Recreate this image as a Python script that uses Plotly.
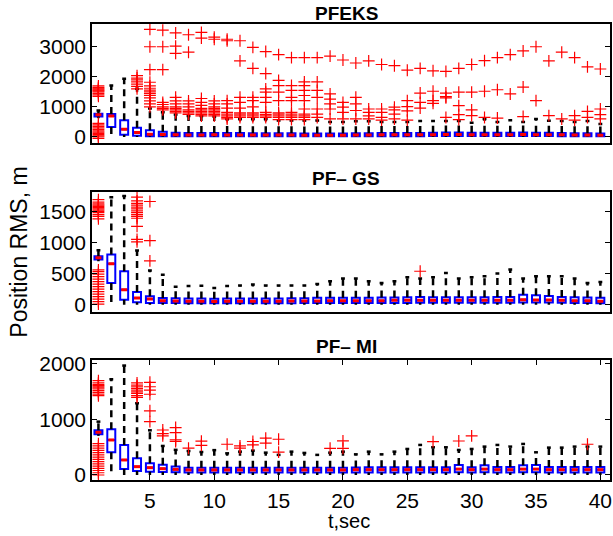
import plotly.graph_objects as go

t = list(range(1, 41))

# ---------------- PFEKS ----------------
pfeks_q1 = [680, 330, 70, 40, 20, 20, 25, 25, 25, 25, 25, 25, 25, 25, 25, 25, 25, 25, 25, 25,
            25, 25, 25, 25, 25, 25, 30, 30, 30, 30, 30, 30, 30, 30, 30, 30, 25, 25, 25, 20]
pfeks_med = [740, 700, 260, 145, 90, 80, 70, 65, 65, 70, 65, 65, 65, 65, 65, 65, 60, 60, 60, 60,
             65, 65, 70, 70, 70, 75, 75, 80, 80, 75, 75, 75, 75, 80, 75, 75, 70, 65, 65, 60]
pfeks_q3 = [770, 760, 560, 310, 220, 170, 140, 130, 130, 135, 130, 130, 125, 120, 120, 120, 115, 115, 115, 115,
            120, 125, 130, 130, 130, 135, 140, 145, 145, 140, 140, 140, 140, 145, 140, 140, 130, 120, 120, 115]
pfeks_hi = [880, 1710, 1940, 1600, 950, 820, 750, 700, 700, 680, 600, 600, 600, 600, 550, 550, 550, 550, 500, 500,
            520, 520, 500, 500, 500, 530, 530, 530, 530, 470, 600, 500, 560, 500, 600, 540, 530, 500, 530, 430]
pfeks_lo = [620] + [0] * 39
pfeks_out = {
    1: [1350, 1400, 1450, 1500, 1530, 1560, 1590, 1620, 1650, 1700,
        -50, 0, 40, 80, 120, 160, 200, 250, 300, 350, 400, 450],
    4: [1600, 1680, 1760, 1830, 1900, 1960, 2040],
    5: [3580, 3000, 2240, 1820, 1700, 1620, 1560, 1500, 1440, 1380, 1300, 1200, 1100, 1000],
    6: [3550, 3000, 2240, 1150, 1080, 1000, 950, 900],
    7: [3460, 3020, 2780, 1320, 1200, 1100, 1000, 950, 900, 850, 800],
    8: [3400, 2820, 1200, 1100, 1000, 900, 850, 800, 750],
    9: [3480, 3290, 1280, 1150, 1050, 950, 900, 850, 800, 750, 700],
    10: [3320, 3250, 1200, 1100, 1000, 950, 900, 850, 800, 750, 700],
    11: [3250, 3200, 1210, 1100, 960, 820, 760, 700, 650, 600],
    12: [3200, 2530, 1320, 1150, 960, 800, 760, 700, 650],
    13: [2980, 2280, 1320, 1210, 1000, 800, 760, 700, 650],
    14: [2840, 2110, 1600, 1490, 1320, 1150, 820, 750, 700, 650],
    15: [2740, 1880, 1710, 1490, 1210, 800, 760, 700, 650, 580],
    16: [2640, 1710, 1550, 1320, 1210, 820, 760, 700, 650, 580],
    17: [2640, 1830, 1710, 1550, 1380, 1210, 930, 760, 700, 650, 580],
    18: [2640, 1830, 1550, 1320, 930, 760, 650],
    19: [2690, 1430, 1260, 1100, 930, 600],
    20: [2560, 1150, 990, 820, 600],
    21: [2460, 1320, 1100, 880, 600],
    22: [2530, 930, 820, 700, 600],
    23: [2410, 930, 820, 650, 560],
    24: [2370, 990, 900, 760, 600],
    25: [2220, 1210, 1010, 870, 560],
    26: [2280, 1460, 1150, 960],
    27: [2200, 1520, 1210, 1120],
    28: [2180, 1460, 1340, 1300, 650],
    29: [2280, 1490, 1040, 740, 580],
    30: [2410, 1490, 900, 710],
    31: [2540, 1520, 650],
    32: [2640, 1570, 630],
    33: [2740, 1430],
    34: [2860, 1660, 680],
    35: [3000, 1210],
    36: [2530, 710],
    37: [2820, 600],
    38: [2640, 710, 560],
    39: [2330, 850, 650],
    40: [2260, 930, 740, 600],
}

# ---------------- PF- GS ----------------
gs_q1 = [726, 350, 81, 37, 27, 27, 25, 22, 22, 22, 22, 22, 22, 22, 22, 22, 25, 25, 25, 25,
         25, 25, 28, 28, 28, 30, 30, 30, 30, 30, 30, 30, 30, 35, 35, 35, 30, 28, 25, 22]
gs_med = [753, 660, 242, 107, 92, 64, 60, 55, 55, 50, 55, 55, 55, 55, 55, 60, 60, 60, 65, 65,
          65, 65, 65, 70, 70, 70, 70, 70, 70, 70, 70, 70, 70, 80, 75, 75, 70, 65, 65, 55]
gs_q3 = [780, 806, 537, 205, 134, 107, 105, 100, 100, 95, 100, 100, 100, 100, 100, 105, 105, 110, 110, 110,
         110, 110, 115, 115, 120, 125, 120, 120, 120, 120, 120, 125, 125, 160, 150, 140, 125, 120, 115, 110]
gs_hi = [876, 1730, 1747, 871, 550, 480, 290, 300, 305, 270, 300, 307, 323, 307, 307, 310, 307, 333, 376, 420,
         420, 376, 350, 376, 441, 420, 441, 511, 420, 441, 457, 500, 565, 420, 457, 457, 457, 420, 350, 366]
gs_lo = [700] + [0] * 39
gs_out = {
    1: [1380, 1420, 1450, 1480, 1500, 1520, 1540, 1560, 1580, 1600, 1620, 1650, 1690,
        10, 50, 90, 130, 170, 210, 250, 290, 330, 370, 410, 450, 490, 530, 560],
    4: [1730, 1670, 1630, 1600, 1570, 1540, 1510, 1480, 1450, 1420, 1390, 1260, 1050, 1010],
    5: [1660, 1030, 705],
    26: [538],
}

# ---------------- PF- MI ----------------
mi_q1 = [730, 405, 108, 72, 60, 55, 50, 45, 45, 45, 45, 45, 45, 45, 45, 45, 45, 45, 45, 45,
         45, 45, 45, 45, 45, 45, 45, 45, 50, 45, 50, 45, 45, 50, 50, 45, 45, 45, 45, 45]
mi_med = [765, 627, 269, 149, 131, 113, 100, 90, 90, 90, 90, 90, 90, 90, 90, 90, 90, 90, 90, 90,
          95, 95, 95, 95, 95, 95, 95, 95, 105, 95, 105, 95, 95, 105, 105, 95, 95, 95, 95, 95]
mi_q3 = [800, 820, 538, 299, 209, 185, 150, 130, 130, 130, 130, 130, 130, 130, 130, 130, 130, 130, 130, 130,
         135, 140, 140, 140, 140, 140, 140, 140, 180, 140, 175, 145, 145, 175, 180, 145, 145, 145, 145, 145]
mi_hi = [955, 1715, 1960, 1285, 800, 520, 450, 430, 412, 445, 388, 418, 436, 400, 360, 418, 395, 360, 400, 418,
         370, 418, 370, 418, 466, 538, 496, 496, 448, 466, 508, 538, 508, 556, 406, 490, 490, 508, 508, 508]
mi_lo = [700] + [0] * 39
mi_out = {
    1: [1420, 1450, 1480, 1510, 1540, 1560, 1580, 1600, 1620, 1650, 1690,
        0, 40, 80, 120, 160, 200, 240, 280, 320, 360, 400, 440, 480, 520, 560],
    4: [1650, 1610, 1580, 1550, 1520, 1490, 1460, 1420, 1390],
    5: [1660, 1580, 1520, 1446, 1150, 955],
    6: [806, 740, 700],
    7: [850, 760, 630, 600],
    8: [480],
    9: [605, 530],
    11: [550],
    12: [520, 480],
    13: [600, 540],
    14: [660, 570],
    15: [640, 410],
    19: [478],
    20: [610, 478],
    27: [597],
    29: [609],
    30: [700],
    39: [550],
}

titles = ["PFEKS", "PF\u2013 GS", "PF\u2013 MI"]
y_ranges = [[-210, 3757], [-113, 1817], [-90, 2060]]
y_ticks = [[0, 1000, 2000, 3000], [0, 500, 1000, 1500], [0, 1000, 2000]]
x_ticks = [5, 10, 15, 20, 25, 30, 35, 40]
x_range = [0.5, 40.75]

panels = [
    (pfeks_q1, pfeks_med, pfeks_q3, pfeks_lo, pfeks_hi, pfeks_out),
    (gs_q1, gs_med, gs_q3, gs_lo, gs_hi, gs_out),
    (mi_q1, mi_med, mi_q3, mi_lo, mi_hi, mi_out),
]
domains = [[0.7384, 1.0], [0.3691, 0.6322], [0.0, 0.2632]]

BOXW = 0.62
CAPW = 0.3
FONT = "Liberation Sans, Arial, Helvetica, sans-serif"

fig = go.Figure()
for i, (q1, med, q3, lo, hi, out) in enumerate(panels):
    xa = "x" if i == 0 else f"x{i+1}"
    ya = "y" if i == 0 else f"y{i+1}"
    fig.add_trace(go.Box(
        x=t, q1=q1, median=med, q3=q3, lowerfence=q1, upperfence=q3,
        width=BOXW, whiskerwidth=0, boxpoints=False,
        line=dict(color="rgb(0,0,255)", width=2), fillcolor="rgba(255,255,255,0)",
        xaxis=xa, yaxis=ya, hoverinfo="skip", showlegend=False))
    # whiskers (dashed black)
    wx, wy = [], []
    for k, a, b, c, d in zip(t, q3, hi, q1, lo):
        wx += [k, k, None]
        wy += [a, b, None]
        if d < c:
            wx += [k, k, None]
            wy += [c, d, None]
    fig.add_trace(go.Scatter(x=wx, y=wy, mode="lines",
                             line=dict(color="black", width=2.5, dash="7px,5px"),
                             xaxis=xa, yaxis=ya, hoverinfo="skip", showlegend=False))
    # caps
    cx, cy = [], []
    for k, b in zip(t, hi):
        cx += [k - CAPW / 2, k + CAPW / 2, None]
        cy += [b, b, None]
    fig.add_trace(go.Scatter(x=cx, y=cy, mode="lines",
                             line=dict(color="black", width=2.5),
                             xaxis=xa, yaxis=ya, hoverinfo="skip", showlegend=False))
    # medians
    mx, my = [], []
    for k, m in zip(t, med):
        mx += [k - BOXW / 2 + 0.08, k + BOXW / 2 - 0.08, None]
        my += [m, m, None]
    fig.add_trace(go.Scatter(x=mx, y=my, mode="lines",
                             line=dict(color="red", width=3),
                             xaxis=xa, yaxis=ya, hoverinfo="skip", showlegend=False))
    # outliers
    ox, oy = [], []
    for k, vals in out.items():
        ox += [k] * len(vals)
        oy += vals
    fig.add_trace(go.Scatter(x=ox, y=oy, mode="markers",
                             marker=dict(symbol="cross-thin", size=8.5,
                                         line=dict(color="red", width=1.2), color="red"),
                             xaxis=xa, yaxis=ya, hoverinfo="skip", showlegend=False))

layout = dict(
    width=613, height=536,
    margin=dict(l=92, r=1, t=24, b=56),
    paper_bgcolor="white", plot_bgcolor="white",
    font=dict(family=FONT, size=21, color="black"),
    showlegend=False,
)
for i in range(3):
    sx = "" if i == 0 else str(i + 1)
    xa = dict(domain=[0, 1], range=x_range, anchor="y" + sx,
              showline=True, linecolor="black", linewidth=1.5, mirror=True,
              showgrid=False, zeroline=False)
    if i == 2:
        xa.update(tickvals=x_ticks, ticks="inside", ticklen=5, tickwidth=1,
                  tickcolor="black", mirror="ticks", showticklabels=True,
                  tickfont=dict(size=21), ticklabeloverflow="allow",
                  ticklabelstandoff=1)
    else:
        xa.update(ticks="", showticklabels=False)
    ya = dict(domain=domains[i], range=y_ranges[i], anchor="x" + sx,
              tickvals=y_ticks[i], ticks="inside", ticklen=5, tickwidth=1,
              tickcolor="black", showline=True, linecolor="black", linewidth=1.5,
              mirror="ticks", showgrid=False, zeroline=False, tickfont=dict(size=21))
    layout["xaxis" + sx] = xa
    layout["yaxis" + sx] = ya

annotations = []
for i in range(3):
    annotations.append(dict(text="<b>%s</b>" % titles[i], xref="paper", yref="paper",
                            x=0.5, y=domains[i][1], xanchor="center", yanchor="bottom",
                            xshift=-5, yshift=-2 if i == 0 else 1, showarrow=False,
                            font=dict(size=19, family=FONT, color="black")))
annotations.append(dict(text="Position RMS, m", xref="paper", yref="paper",
                        x=-0.141, y=0.5007, xanchor="center", yanchor="middle",
                        textangle=-90, showarrow=False, font=dict(size=23, family=FONT)))
annotations.append(dict(text="t,sec", xref="paper", yref="paper",
                        x=0.5, y=-0.0895, xanchor="center", yanchor="middle",
                        xshift=-2, showarrow=False, font=dict(size=20, family=FONT)))
layout["annotations"] = annotations

fig.update_layout(**layout)
fig.write_html("out.html")
